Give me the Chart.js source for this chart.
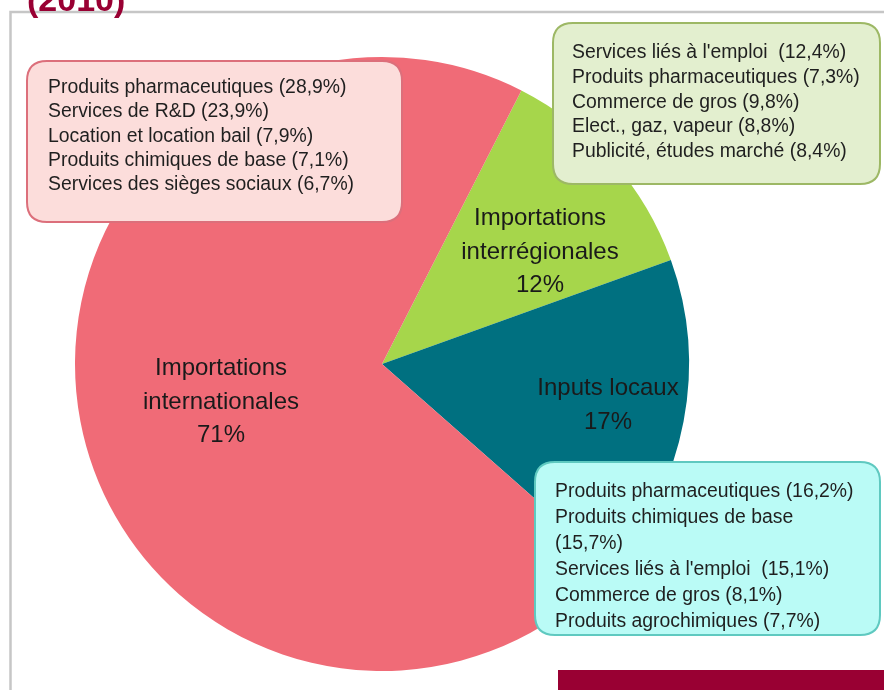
<!DOCTYPE html>
<html>
<head>
<meta charset="utf-8">
<script src="https://cdn.jsdelivr.net/npm/chart.js@4.4.1/dist/chart.umd.min.js"></script>
<style>
  html, body { margin: 0; padding: 0; background: #ffffff; }
  #wrap { position: relative; width: 884px; height: 690px; }
  canvas { display: block; }
</style>
</head>
<body>
<div id="wrap"><canvas id="c" width="884" height="690"></canvas></div>
<script>
// ---------- DATA ----------
const titleText = '(2010)';
const categories = ['Importations interrégionales', 'Inputs locaux', 'Importations internationales'];
const shares = [12, 17, 71];
const sliceLabelLines = [
  ['Importations', 'interrégionales'],
  ['Inputs locaux'],
  ['Importations', 'internationales']
];

// Top products, international imports
const intlNames = ['Produits pharmaceutiques', 'Services de R&D', 'Location et location bail', 'Produits chimiques de base', 'Services des sièges sociaux'];
const intlShares = [28.9, 23.9, 7.9, 7.1, 6.7];
// Top products, interregional imports
const interregNames = ["Services liés à l'emploi ", 'Produits pharmaceutiques', 'Commerce de gros', 'Elect., gaz, vapeur', 'Publicité, études marché'];
const interregShares = [12.4, 7.3, 9.8, 8.8, 8.4];
// Top products, local inputs
const localNames = ['Produits pharmaceutiques', 'Produits chimiques de base', "Services liés à l'emploi ", 'Commerce de gros', 'Produits agrochimiques'];
const localShares = [16.2, 15.7, 15.1, 8.1, 7.7];

// ---------- STYLE / LAYOUT ----------
const sliceColors = ['#A6D64B', '#007080', '#F06B77'];
const FONT = '"Liberation Sans", Arial, Helvetica, sans-serif';
const fmt = v => v.toFixed(1).replace('.', ',') + '%';

const boxes = [
  { names: intlNames, values: intlShares, x: 27, y: 61, w: 375, h: 161, r: 20,
    fill: '#FCDDDB', stroke: '#DC6F7B', tx: 48, ty: 93, lh: 24.3, breakAt: [] },
  { names: interregNames, values: interregShares, x: 553, y: 23, w: 327, h: 161, r: 20,
    fill: '#E3EFCF', stroke: '#9DB865', tx: 572, ty: 58, lh: 24.8, breakAt: [] },
  { names: localNames, values: localShares, x: 535, y: 462, w: 345, h: 173, r: 20,
    fill: '#BAFBF6', stroke: '#5FC9C0', tx: 555, ty: 497, lh: 26, breakAt: [1] }
];
// label anchor offsets from pie centre (baseline of first line)
const sliceLabelOffsets = [ {dx: 158, dy: -139}, {dx: 226, dy: 31}, {dx: -161, dy: 11} ];

function roundRect(ctx, x, y, w, h, r) {
  ctx.beginPath();
  ctx.moveTo(x + r, y);
  ctx.lineTo(x + w - r, y);
  ctx.quadraticCurveTo(x + w, y, x + w, y + r);
  ctx.lineTo(x + w, y + h - r);
  ctx.quadraticCurveTo(x + w, y + h, x + w - r, y + h);
  ctx.lineTo(x + r, y + h);
  ctx.quadraticCurveTo(x, y + h, x, y + h - r);
  ctx.lineTo(x, y + r);
  ctx.quadraticCurveTo(x, y, x + r, y);
  ctx.closePath();
}

const framePlugin = {
  id: 'frame',
  beforeDraw(chart) {
    const ctx = chart.ctx;
    ctx.save();
    ctx.fillStyle = '#ffffff';
    ctx.fillRect(0, 0, chart.width, chart.height);
    ctx.strokeStyle = '#c6c6c6';
    ctx.lineWidth = 2.5;
    ctx.beginPath();
    ctx.moveTo(10.5, chart.height);
    ctx.lineTo(10.5, 12);
    ctx.lineTo(chart.width, 12);
    ctx.stroke();
    ctx.restore();
  },
  afterDraw(chart) {
    const ctx = chart.ctx;
    const meta = chart.getDatasetMeta(0);
    const cx = meta.data[0].x, cy = meta.data[0].y;
    ctx.save();
    // slice labels
    ctx.fillStyle = '#1a1a1a';
    ctx.textAlign = 'center';
    ctx.textBaseline = 'alphabetic';
    ctx.font = '24px ' + FONT;
    sliceLabelLines.forEach((lines, i) => {
      const o = sliceLabelOffsets[i];
      const all = lines.concat([shares[i] + '%']);
      all.forEach((t, k) => ctx.fillText(t, cx + o.dx, cy + o.dy + k * 33.5));
    });
    // annotation boxes
    boxes.forEach(b => {
      roundRect(ctx, b.x, b.y, b.w, b.h, b.r);
      ctx.fillStyle = b.fill;
      ctx.fill();
      ctx.lineWidth = 2;
      ctx.strokeStyle = b.stroke;
      ctx.stroke();
      ctx.fillStyle = '#1f1f1f';
      ctx.textAlign = 'left';
      ctx.font = '19.4px ' + FONT;
      let line = 0;
      b.names.forEach((n, i) => {
        const pct = '(' + fmt(b.values[i]) + ')';
        if (b.breakAt.includes(i)) {
          ctx.fillText(n, b.tx, b.ty + line * b.lh); line++;
          ctx.fillText(pct, b.tx, b.ty + line * b.lh); line++;
        } else {
          ctx.fillText(n + ' ' + pct, b.tx, b.ty + line * b.lh); line++;
        }
      });
    });
    // title (cut at the top) and bottom band
    ctx.fillStyle = '#990033';
    ctx.font = 'bold 34px ' + FONT;
    ctx.textAlign = 'left';
    ctx.fillText(titleText, 27, 11);
    ctx.fillRect(558, 670, chart.width - 558, chart.height - 670);
    ctx.restore();
  }
};

new Chart(document.getElementById('c'), {
  type: 'pie',
  data: {
    labels: categories,
    datasets: [{
      data: shares,
      backgroundColor: sliceColors,
      borderWidth: 0
    }]
  },
  options: {
    responsive: false,
    animation: false,
    rotation: 27,
    layout: { padding: { left: 75, right: 195, top: 57, bottom: 19 } },
    plugins: { legend: { display: false }, tooltip: { enabled: false }, title: { display: false } }
  },
  plugins: [framePlugin]
});
</script>
</body>
</html>
